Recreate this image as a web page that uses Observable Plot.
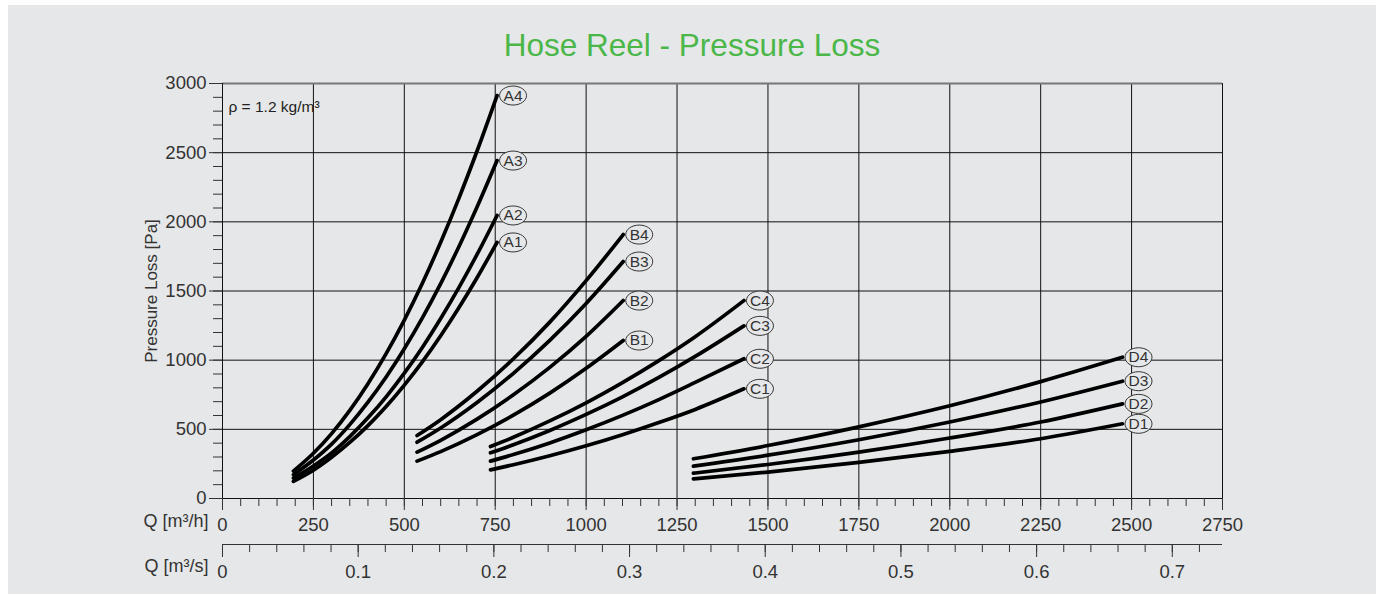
<!DOCTYPE html>
<html><head><meta charset="utf-8">
<script src="https://cdn.jsdelivr.net/npm/d3@7"></script>
<script src="https://cdn.jsdelivr.net/npm/@observablehq/plot@0.6"></script>
<style>
body{margin:0;background:#fff;}
#panel{position:absolute;left:8px;top:5px;width:1368px;height:589px;background:#e6e7e8;}
#wrap{position:absolute;left:0;top:0;width:1378px;}
#title{margin-left:8px;width:1368px;height:60px;box-sizing:border-box;padding-top:30px;text-align:center;font-family:"Liberation Sans",Arial,sans-serif;font-size:31.5px;line-height:30px;color:#4bb749;}
</style></head>
<body><div id="panel"></div><div id="wrap"><div id="title">Hose Reel - Pressure Loss</div><div id="chart"></div></div>
<script>
// Flow (m³/h) and pressure loss (Pa) for each hose reel curve
const qA = [195, 250, 300, 350, 400, 450, 500, 550, 600, 650, 700, 755];
const A4 = [198, 327, 469, 637, 830, 1047, 1290, 1558, 1852, 2170, 2512, 2913];
const A3 = [172, 278, 393, 534, 696, 878, 1082, 1307, 1553, 1820, 2107, 2443];
const A2 = [147, 235, 329, 447, 583, 735, 906, 1094, 1301, 1524, 1764, 2046];
const A1 = [124, 205, 298, 405, 527, 665, 820, 990, 1177, 1379, 1596, 1851];

const qB = [535, 600, 700, 800, 900, 1000, 1102];
const B4 = [455, 570, 775, 1010, 1275, 1575, 1908];
const B3 = [407, 510, 694, 905, 1143, 1410, 1713];
const B2 = [335, 421, 574, 750, 948, 1172, 1431];
const B1 = [270, 339, 462, 603, 762, 941, 1142];

const qC = [737, 800, 900, 1000, 1100, 1200, 1300, 1434];
const C4 = [376, 443, 561, 692, 838, 997, 1170, 1431];
const C3 = [330, 389, 492, 608, 735, 875, 1027, 1248];
const C2 = [270, 318, 402, 497, 601, 715, 839, 1010];
const C1 = [207, 244, 309, 381, 461, 549, 644, 793];

const qD = [1295, 1500, 1750, 2000, 2250, 2475];
const D4 = [287, 383, 518, 670, 845, 1021];
const D3 = [234, 313, 425, 553, 698, 848];
const D2 = [183, 246, 335, 437, 553, 684];
const D1 = [142, 191, 261, 341, 432, 540];

// Axis ticks
const xMajor = [0, 250, 500, 750, 1000, 1250, 1500, 1750, 2000, 2250, 2500, 2750];
const xMinor = d3.range(0, 2751, 50);
const yMajor = [0, 500, 1000, 1500, 2000, 2500, 3000];
const yMinor = d3.range(0, 3001, 100);
const xGrid = [250, 500, 750, 1000, 1250, 1500, 1750, 2000, 2250, 2500];
const yGrid = [500, 1000, 1500, 2000, 2500];
const sMajor = [0, 0.1, 0.2, 0.3, 0.4, 0.5, 0.6, 0.7];
const sMinor = d3.range(0, 37).map(i => i * 0.02);
const sMax = 0.737; // m³/s at right edge of the lower axis
const xMax = 2750;

const titleText = "Hose Reel - Pressure Loss";
const yLabel = "Pressure Loss [Pa]";
const qhLabel = "Q [m³/h]";
const qsLabel = "Q [m³/s]";
const rhoLabel = "ρ = 1.2 kg/m³";

const series = [
  ["A4", qA, A4], ["A3", qA, A3], ["A2", qA, A2], ["A1", qA, A1],
  ["B4", qB, B4], ["B3", qB, B3], ["B2", qB, B2], ["B1", qB, B1],
  ["C4", qC, C4], ["C3", qC, C3], ["C2", qC, C2], ["C1", qC, C1],
  ["D4", qD, D4], ["D3", qD, D3], ["D2", qD, D2], ["D1", qD, D1]
];
const rows = series.flatMap(([name, q, p]) => q.map((v, i) => ({series: name, q: v, p: p[i]})));
const labels = series.map(([name, q, p]) => ({series: name, q: q[q.length - 1], p: p[p.length - 1]}));

const K = xMax / sMax;
const bg = "#e6e7e8";

const ellipse = {
  draw(ctx, size) {
    const r = Math.sqrt(size / Math.PI), rx = r * 1.42, ry = r, k = 0.5523;
    ctx.moveTo(rx, 0);
    ctx.bezierCurveTo(rx, ry * k, rx * k, ry, 0, ry);
    ctx.bezierCurveTo(-rx * k, ry, -rx, ry * k, -rx, 0);
    ctx.bezierCurveTo(-rx, -ry * k, -rx * k, -ry, 0, -ry);
    ctx.bezierCurveTo(rx * k, -ry, rx, -ry * k, rx, 0);
    ctx.closePath();
  }
};

const chart = Plot.plot({
  width: 1378, height: 536,
  marginLeft: 222, marginRight: 156, marginTop: 23, marginBottom: 98,
  style: {background: "transparent", color: "#222", fontFamily: "Liberation Sans, Arial, sans-serif", fontSize: "18px", overflow: "visible"},
  x: {domain: [0, xMax]},
  y: {domain: [0, 3000]},
  marks: [
    Plot.ruleX(xGrid, {stroke: "#111"}),
    Plot.ruleY(yGrid, {stroke: "#111"}),
    Plot.ruleY([3000], {stroke: "#777", strokeWidth: 2}),
    Plot.ruleX([xMax], {stroke: "#111"}),
    Plot.ruleX([0], {stroke: "#111"}),
    Plot.ruleY([0], {stroke: "#111"}),
    Plot.axisY(yMinor, {tickSize: 9, tickFormat: () => "", label: null, stroke: "#333"}),
    Plot.axisY(yMajor, {tickSize: 13, tickPadding: 3, tickFormat: d => String(d), label: null, stroke: "#333", fill: "#333", fontSize: 18.5}),
    Plot.axisX(xMinor, {tickSize: 8, tickFormat: () => "", label: null, stroke: "#333"}),
    Plot.axisX(xMajor, {tickSize: 12, tickPadding: 7, tickFormat: d => String(d), label: null, stroke: "#333", fill: "#333", fontSize: 18.5}),
    Plot.ruleY([0], {dy: 46, stroke: "#333"}),
    Plot.axisX(sMinor.map(v => v * K), {tickSize: 8, dy: 46, tickFormat: () => "", label: null, stroke: "#333"}),
    Plot.axisX(sMajor.map(v => v * K), {tickSize: 13, dy: 46, tickPadding: 7, tickFormat: d => String(+(d / K).toFixed(1)), label: null, stroke: "#333", fill: "#333", fontSize: 18.5}),
    Plot.line(rows, {x: "q", y: "p", z: "series", stroke: "#000", strokeWidth: 3.7, curve: "monotone-x"}),
    Plot.dot(labels, {x: "q", y: "p", symbol: ellipse, r: 9.5, dx: 16, fill: bg, stroke: "#333", strokeWidth: 1}),
    Plot.text(labels, {x: "q", y: "p", text: "series", dx: 16, fontSize: 15.5, fill: "#333"}),
    Plot.text([rhoLabel], {frameAnchor: "top-left", dx: 6, dy: 17, textAnchor: "start", fontSize: 15.5, fill: "#222"}),
    Plot.text([yLabel], {frameAnchor: "left", textAnchor: "middle", rotate: -90, dx: -71, fontSize: 17, fill: "#333"}),
    Plot.text([qhLabel], {frameAnchor: "bottom-left", dx: -14, dy: 28, textAnchor: "end", fontSize: 18, fill: "#333"}),
    Plot.text([qsLabel], {frameAnchor: "bottom-left", dx: -14, dy: 73, textAnchor: "end", fontSize: 18, fill: "#333"})
  ]
});
document.getElementById("title").textContent = titleText;
document.getElementById("chart").appendChild(chart);
</script>
</body></html>
